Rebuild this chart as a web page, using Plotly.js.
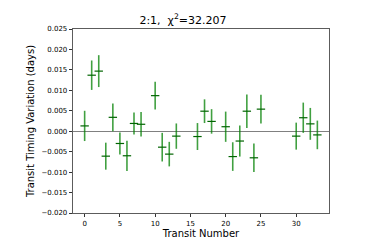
<!DOCTYPE html>
<html>
<head>
<meta charset="utf-8">
<script src="https://cdn.plot.ly/plotly-3.0.1.min.js"></script>
<style>html,body{margin:0;padding:0;background:#fff;}#chart{width:366px;height:244px;}</style>
</head>
<body>
<div id="chart"></div>
<script>
var transitNumber = [0, 1, 2, 3, 4, 5, 6, 7, 8, 10, 11, 12, 13, 16, 17, 18, 20, 21, 22, 23, 24, 25, 30, 31, 32, 33];
var ttv = [0.0013, 0.0137, 0.0147, -0.0061, 0.0034, -0.0030, -0.0060, 0.0019, 0.0017, 0.0087, -0.0039, -0.0056, -0.0012, -0.0013, 0.0049, 0.0024, 0.0011, -0.0062, -0.0024, 0.0049, -0.0065, 0.0054, -0.0012, 0.0033, 0.0018, -0.0009];
var ttvErr = [0.0037, 0.0036, 0.0039, 0.0033, 0.0034, 0.0027, 0.0037, 0.0027, 0.0030, 0.0034, 0.0035, 0.0030, 0.0031, 0.0033, 0.0029, 0.0030, 0.0037, 0.0035, 0.0038, 0.0041, 0.0035, 0.0035, 0.0033, 0.0037, 0.0039, 0.0035];
var yTicks = [-0.020, -0.015, -0.010, -0.005, 0.000, 0.005, 0.010, 0.015, 0.020, 0.025];
var xTicks = [0, 5, 10, 15, 20, 25, 30];

var font = "DejaVu Sans, sans-serif";
var trace = {
  x: transitNumber, y: ttv, type: 'scatter', mode: 'markers',
  marker: {symbol: 'line-ew', size: 6, color: '#006400', line: {color: '#006400', width: 1.2}},
  error_y: {type: 'data', array: ttvErr, visible: true, color: 'rgba(0,128,0,0.75)', thickness: 1.6, width: 0},
  hoverinfo: 'none'
};
var layout = {
  width: 366, height: 244,
  margin: {l: 73, r: 37, t: 29, b: 31, pad: 0},
  paper_bgcolor: '#fff', plot_bgcolor: '#fff',
  showlegend: false,
  title: {text: '2:1,  χ<sup>2</sup>=32.207', font: {family: font, size: 11, color: '#000'}, x: 0.5, xanchor: 'center', xref: 'container', y: 0.918, yref: 'container', yanchor: 'middle'},
  xaxis: {
    range: [-1.65, 34.65], tickvals: xTicks, ticktext: xTicks.map(String),
    ticks: 'outside', ticklen: 3.5, tickwidth: 0.8, tickcolor: '#000',
    showline: true, linecolor: '#333', linewidth: 0.8, mirror: true,
    showgrid: false, zeroline: false,
    tickfont: {family: font, size: 7, color: '#000'},
    title: {text: 'Transit Number', font: {family: font, size: 10, color: '#000'}, standoff: 1}
  },
  yaxis: {
    range: [-0.020, 0.025], tickvals: yTicks, ticktext: yTicks.map(function(v){ return (v < 0 ? '\u2212' : '') + Math.abs(v).toFixed(3); }),
    ticks: 'outside', ticklen: 3.5, tickwidth: 0.8, tickcolor: '#000',
    showline: true, linecolor: '#333', linewidth: 0.8, mirror: true,
    showgrid: false, zeroline: true, zerolinecolor: '#808080', zerolinewidth: 1,
    tickfont: {family: font, size: 7, color: '#000'},
    title: {text: 'Transit Timing Variation (days)', font: {family: font, size: 10, color: '#000'}, standoff: 4}
  }
};
Plotly.newPlot('chart', [trace], layout, {staticPlot: true, displayModeBar: false});
</script>
</body>
</html>
